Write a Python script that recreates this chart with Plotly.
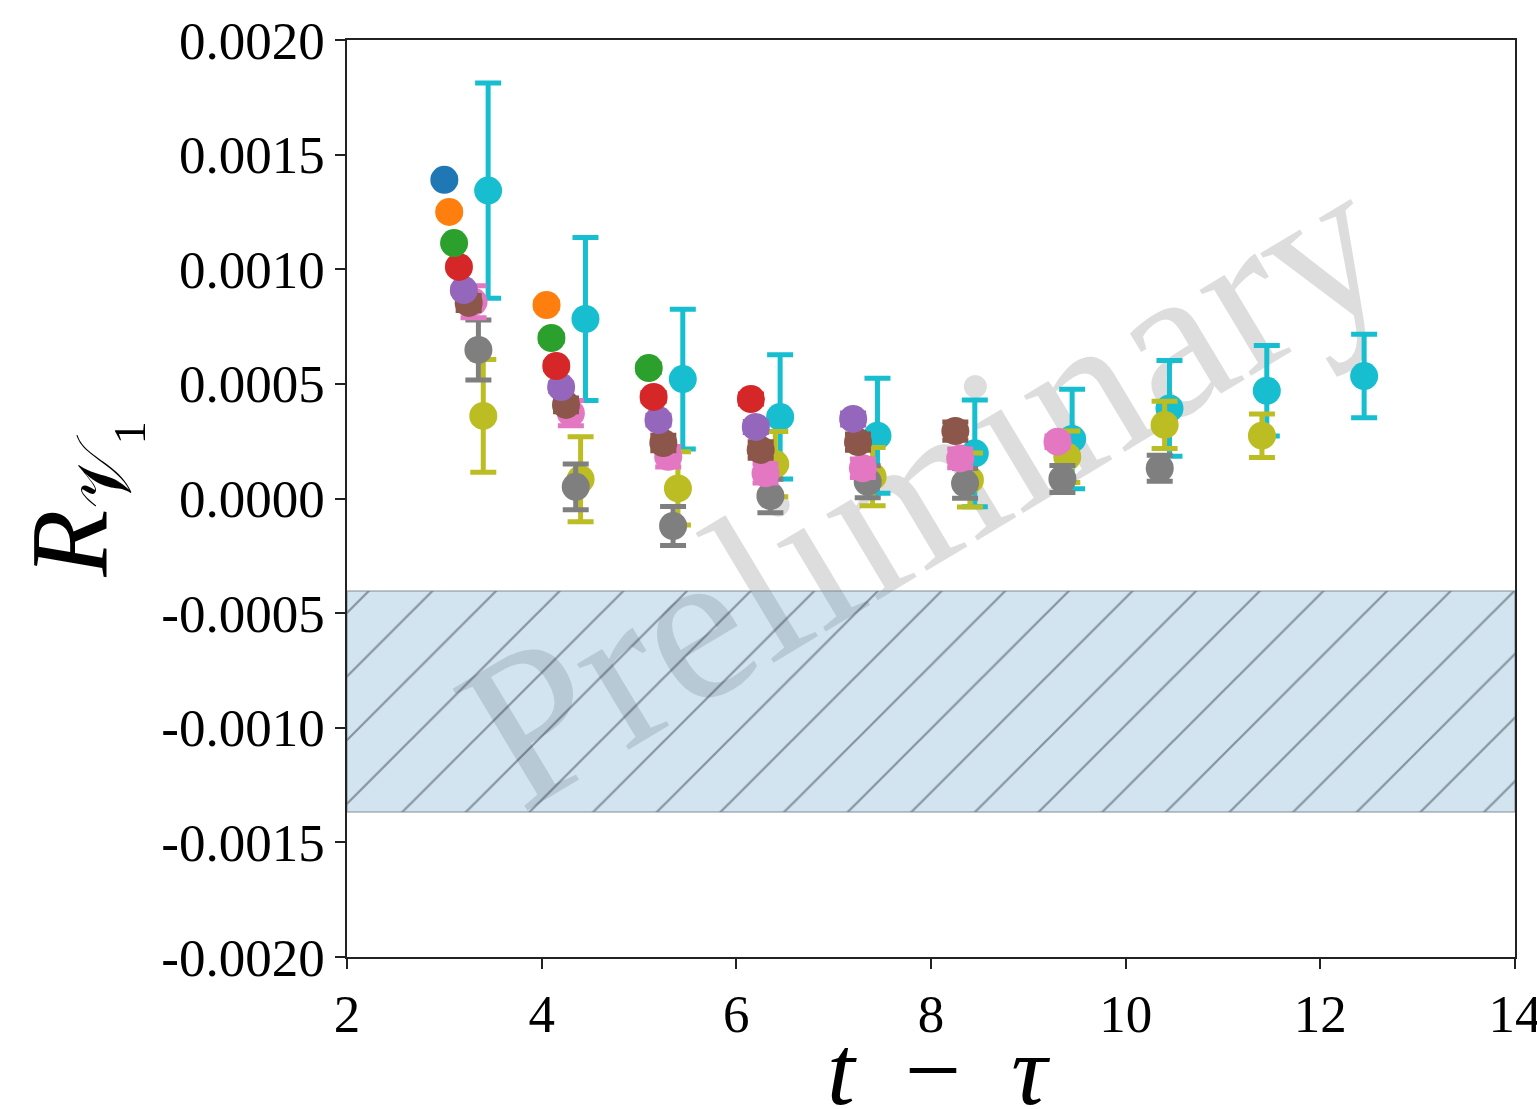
import base64
import plotly.graph_objects as go

# t - tau values, central values and errors for each source-sink separation
t_blue = [3]
r_blue = [0.00139]
e_blue = [0.000010]

t_orange = [3, 4]
r_orange = [0.00125, 0.000844]
e_orange = [0.000012, 0.000015]

t_green = [3, 4, 5]
r_green = [0.001114, 0.000700, 0.000569]
e_green = [0.000012, 0.000015, 0.000018]

t_red = [3, 4, 5, 6]
r_red = [0.001010, 0.000578, 0.000443, 0.000434]
e_red = [0.000013, 0.000016, 0.000019, 0.000022]

t_purple = [3, 4, 5, 6, 7]
r_purple = [0.000909, 0.000486, 0.000342, 0.000312, 0.000347]
e_purple = [0.000014, 0.000018, 0.000021, 0.000024, 0.000026]

t_brown = [3, 4, 5, 6, 7, 8]
r_brown = [0.000853, 0.000408, 0.000242, 0.000212, 0.000246, 0.000294]
e_brown = [0.000033, 0.000030, 0.000034, 0.000036, 0.000035, 0.000040]

t_pink = [3, 4, 5, 6, 7, 8, 9]
r_pink = [0.000858, 0.000372, 0.000182, 0.000110, 0.000132, 0.000175, 0.000248]
e_pink = [0.000070, 0.000055, 0.000045, 0.000042, 0.000040, 0.000041, 0.000025]

t_gray = [3, 4, 5, 6, 7, 8, 9, 10]
r_gray = [0.000648, 0.000051, -0.000120, 0.000011, 0.000073, 0.000066, 0.000085, 0.000132]
e_gray = [0.000131, 0.000100, 0.000085, 0.000073, 0.000070, 0.000065, 0.000059, 0.000057]

t_olive = [3, 4, 5, 6, 7, 8, 9, 10, 11]
r_olive = [0.000360, 0.000084, 0.000044, 0.000150, 0.000095, 0.000081, 0.000182, 0.000321, 0.000274]
e_olive = [0.000246, 0.000185, 0.000160, 0.000142, 0.000127, 0.000118, 0.000112, 0.000103, 0.000095]

t_cyan = [3, 4, 5, 6, 7, 8, 9, 10, 11, 12]
r_cyan = [0.001343, 0.000783, 0.000521, 0.000356, 0.000274, 0.000197, 0.000260, 0.000393, 0.000470, 0.000534]
e_cyan = [0.000469, 0.000355, 0.000305, 0.000271, 0.000251, 0.000233, 0.000217, 0.000209, 0.000197, 0.000182]

# extracted value band
band_low = -0.001368
band_high = -0.000403

x_range = [2, 14]
y_range = [-0.002, 0.002]
x_ticks = [2, 4, 6, 8, 10, 12, 14]
y_ticks = [-0.002, -0.0015, -0.001, -0.0005, 0.0, 0.0005, 0.001, 0.0015, 0.002]
y_tick_labels = ["-0.0020", "-0.0015", "-0.0010", "-0.0005", "0.0000",
                 "0.0005", "0.0010", "0.0015", "0.0020"]

series = [
    (t_blue, r_blue, e_blue, "#1f77b4"),
    (t_orange, r_orange, e_orange, "#ff7f0e"),
    (t_green, r_green, e_green, "#2ca02c"),
    (t_red, r_red, e_red, "#d62728"),
    (t_purple, r_purple, e_purple, "#9467bd"),
    (t_brown, r_brown, e_brown, "#8c564b"),
    (t_pink, r_pink, e_pink, "#e377c2"),
    (t_gray, r_gray, e_gray, "#7f7f7f"),
    (t_olive, r_olive, e_olive, "#bcbd22"),
    (t_cyan, r_cyan, e_cyan, "#17becf"),
]

SERIF = "Liberation Serif, Times New Roman, serif"

fig = go.Figure()

# hatched band
fig.add_trace(go.Scatter(
    x=[x_range[0], x_range[1], x_range[1], x_range[0], x_range[0]],
    y=[band_low, band_low, band_high, band_high, band_low],
    mode="lines",
    fill="toself",
    fillcolor="rgba(31,119,180,0.2)",
    fillpattern=dict(shape="/", size=45, solidity=0.05,
                     fgcolor="rgba(40,50,60,0.45)",
                     bgcolor="rgba(31,119,180,0.2)", fillmode="replace"),
    line=dict(color="rgba(120,130,140,0.6)", width=1.5),
    hoverinfo="skip",
    showlegend=False,
))

# later separations drawn first so earlier ones sit on top
n = len(series)
for k in reversed(range(n)):
    ts, rs, es, col = series[k]
    shift = 0.05 * k
    fig.add_trace(go.Scatter(
        x=[t + shift for t in ts],
        y=rs,
        mode="markers",
        marker=dict(color=col, size=28, line=dict(width=0)),
        error_y=dict(type="data", array=es, visible=True,
                     color=col, thickness=5, width=13),
        showlegend=False,
    ))

# watermark drawn under the data
W, H = 1168, 917
cx, cy = W / 2 - 7, H / 2 - 12
svg = (
    f'<svg xmlns="http://www.w3.org/2000/svg" width="{W}" height="{H}" '
    f'viewBox="0 0 {W} {H}">'
    f'<text x="{cx}" y="{cy}" text-anchor="middle" dominant-baseline="central" '
    f'transform="rotate(-31 {cx} {cy})" font-family="Liberation Serif" '
    f'font-size="218" fill="#808080" fill-opacity="0.27">Preliminary</text></svg>'
)
src = "data:image/svg+xml;base64," + base64.b64encode(svg.encode()).decode()
fig.add_layout_image(dict(source=src, xref="paper", yref="paper", x=0, y=1,
                          sizex=1, sizey=1, xanchor="left", yanchor="top",
                          sizing="stretch", layer="below"))

axis_common = dict(
    showline=True, mirror=True, linecolor="#222", linewidth=1.5,
    ticks="outside", ticklen=10, tickwidth=1.5, tickcolor="#222",
    showgrid=False, zeroline=False, ticklabeloverflow="allow", automargin=False,
    tickfont=dict(family=SERIF, size=53, color="black"),
)

fig.update_xaxes(range=x_range, tickvals=x_ticks, **axis_common)
fig.update_yaxes(range=y_range, tickvals=y_ticks, ticktext=y_tick_labels, **axis_common)

fig.update_layout(
    width=1537, height=1109,
    margin=dict(l=347, r=22, t=40, b=152),
    paper_bgcolor="white",
    plot_bgcolor="rgba(0,0,0,0)",
    annotations=[
        dict(text="<i>t</i>\u2002−\u2002<i>τ</i>", xref="paper", yref="paper",
             x=0.506, y=-0.124, xanchor="center", yanchor="middle", showarrow=False,
             font=dict(family=SERIF, size=100, color="black")),
        dict(text="<i>R</i><sub>𝒱₁</sub>", xref="paper", yref="paper",
             x=-0.231, y=0.50, xanchor="center", yanchor="middle",
             showarrow=False, textangle=-90,
             font=dict(family=SERIF, size=110, color="black")),
    ],
)

fig.write_html("out.html")
